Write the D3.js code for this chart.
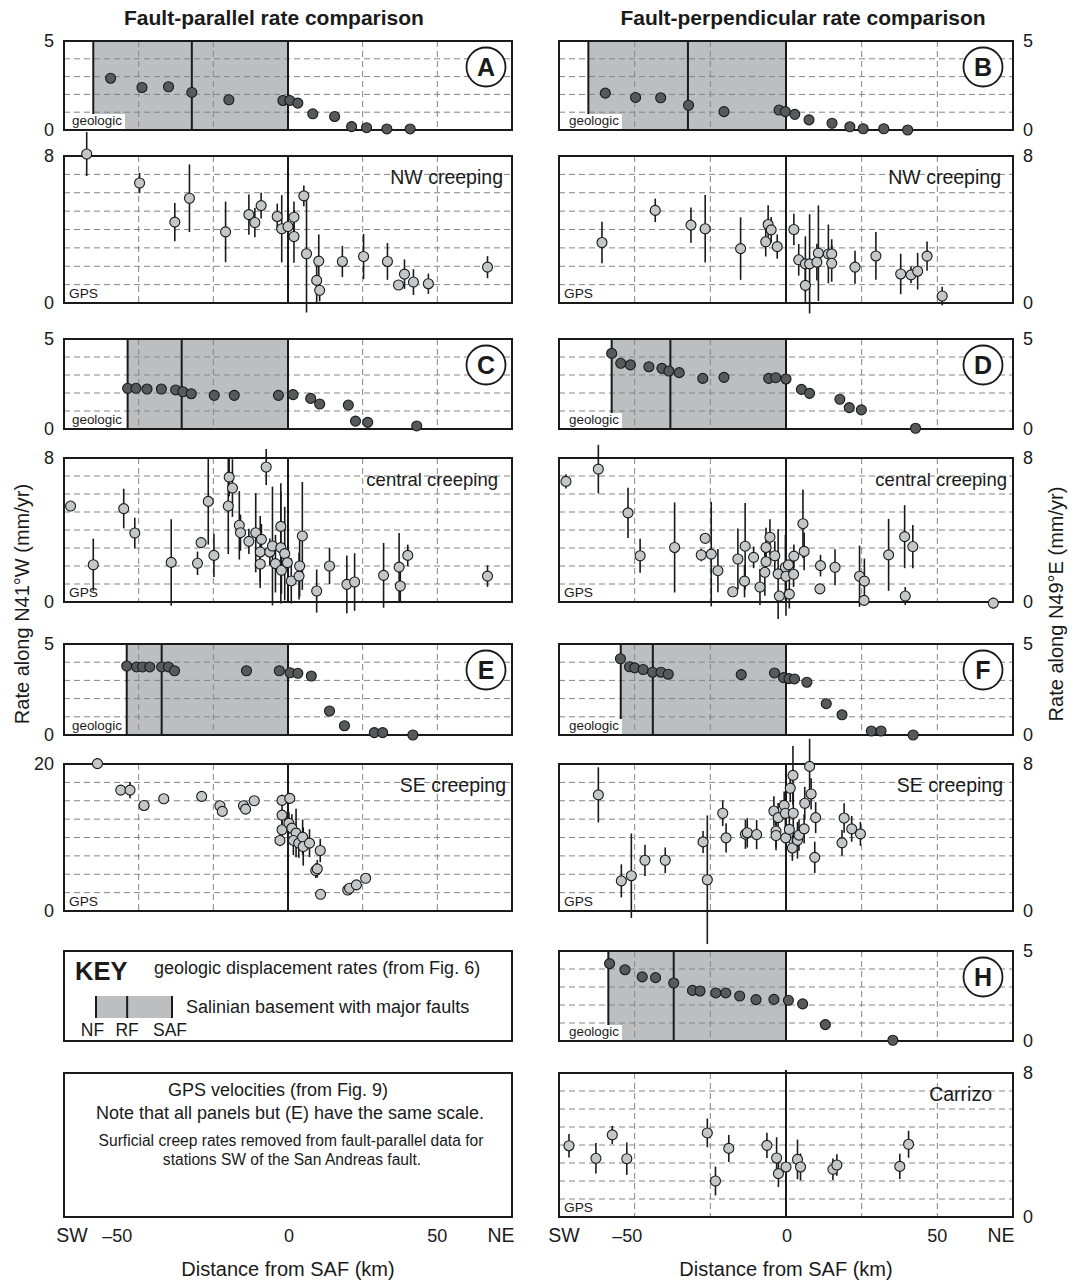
<!DOCTYPE html>
<html>
<head>
<meta charset="utf-8">
<script src="https://cdn.jsdelivr.net/npm/d3@7"></script>
<style>
  body { margin: 0; background: #fff; }
  svg { display: block; }
  text { font-family: 'Liberation Sans', Arial, Helvetica, sans-serif; fill: #1a1a1a; }
</style>
</head>
<body>
<svg id="chart" width="1078" height="1281"></svg>
<script>
// ---- distance axis (km from the San Andreas fault) ----
const xDomain = [-75, 75];
const xGrid = [-50, -25, 25, 50];
const xTickVals = [-50, 0, 50];
const xEndLabels = ["SW", "NE"];

// ---- fault positions [NF, RF] (SAF is at 0) ----
const faultsA = [-65.2, -32.2];
const faultsB = [-65.3, -32.4];
const faultsC = [-53.7, -35.6];
const faultsD = [-57.6, -38.2];
const faultsE = [-54.0, -42.3];
const faultsF = [-54.6, -44.0];
const faultsH = [-58.7, -37.1];
const keyFaultNames = ["NF", "RF", "SAF"];

// ---- geologic displacement rates [distance km, rate mm/yr] ----
const geoA = [[-59.4,2.91],[-48.9,2.39],[-40.0,2.43],[-32.2,2.11],[-19.8,1.70],[-1.7,1.66],[0.6,1.66],[3.3,1.51],[8.3,0.91],[15.6,0.76],[21.3,0.19],[26.3,0.13],[33.1,0.06],[40.9,0.06]];
const geoB = [[-59.7,2.07],[-49.7,1.83],[-41.4,1.81],[-32.2,1.39],[-20.5,1.03],[-2.3,1.12],[-0.2,1.03],[2.9,0.88],[7.6,0.57],[15.2,0.38],[21.1,0.18],[25.5,0.07],[32.3,0.07],[40.2,0.0]];
const geoC = [[-53.7,2.26],[-50.9,2.26],[-47.2,2.22],[-42.4,2.22],[-37.6,2.17],[-35.2,2.07],[-32.4,1.96],[-24.7,1.87],[-18.0,1.87],[-3.2,1.87],[1.7,1.91],[7.6,1.70],[10.6,1.39],[20.2,1.33],[22.6,0.44],[26.7,0.37],[43.1,0.17]];
const geoD = [[-57.6,4.20],[-54.6,3.65],[-51.4,3.56],[-45.3,3.46],[-41.0,3.37],[-38.7,3.22],[-35.3,3.13],[-27.5,2.81],[-20.5,2.87],[-5.7,2.81],[-3.4,2.85],[0.0,2.78],[5.1,2.20],[7.8,1.98],[17.8,1.65],[20.9,1.19],[24.9,1.06],[42.8,0.04]];
const geoE = [[-54.0,3.79],[-50.7,3.74],[-48.7,3.74],[-46.3,3.74],[-42.3,3.74],[-40.0,3.74],[-38.0,3.53],[-13.9,3.53],[-2.9,3.53],[0.7,3.42],[3.3,3.39],[7.8,3.24],[13.9,1.32],[18.9,0.51],[28.9,0.13],[31.7,0.13],[41.8,0.0]];
const geoF = [[-54.7,4.19],[-51.7,3.75],[-50.0,3.69],[-47.2,3.60],[-44.1,3.45],[-41.3,3.45],[-38.9,3.34],[-14.8,3.32],[-3.8,3.41],[-0.8,3.15],[1.0,3.10],[2.8,3.08],[6.9,2.90],[13.3,1.72],[18.5,1.11],[28.2,0.22],[31.4,0.22],[42.0,0.0]];
const geoH = [[-58.3,4.30],[-53.2,3.96],[-47.5,3.56],[-43.1,3.52],[-37.1,3.22],[-30.9,2.81],[-28.4,2.78],[-23.2,2.67],[-19.9,2.67],[-15.3,2.50],[-9.9,2.30],[-4.0,2.31],[0.8,2.26],[5.5,2.06],[13.0,0.91],[35.3,0.04]];

// ---- GPS velocities [distance km, rate mm/yr, 1-sigma error] ----
const gpsNWpar = [[-67.4,8.11,1.2],[-49.7,6.53,0.55],[-37.9,4.40,1.04],[-33.0,5.70,1.84],[-20.9,3.87,1.65],[-13.1,4.81,1.1],[-11.1,4.38,0.8],[-9.0,5.30,0.7],[-3.6,4.71,0.7],[-2.1,4.04,1.83],[0.0,4.16,0],[2.0,4.67,0.86],[2.0,3.62,1.43],[5.3,5.83,0.56],[6.2,2.68,3.2],[10.3,2.28,1.45],[9.6,1.23,1.2],[10.6,0.69,0.6],[18.2,2.26,0.85],[25.3,2.53,1.23],[33.3,2.26,1.0],[37.0,0.98,0],[39.0,1.57,0.8],[42.0,1.14,0.7],[47.0,1.05,0.55],[66.8,1.95,0.6]];
const gpsNWperp = [[-60.8,3.29,1.13],[-43.2,5.04,0.64],[-31.4,4.24,0.96],[-26.7,4.04,1.84],[-15.0,2.96,1.7],[-6.7,3.33,0.8],[-5.9,4.27,1.05],[-4.9,3.98,0.7],[-2.9,3.07,0.66],[2.6,4.00,0.86],[4.2,2.35,0.86],[6.4,2.13,1.5],[6.4,0.96,0.9],[7.8,2.13,2.7],[10.7,2.71,2.6],[10.2,2.22,1.0],[14.0,2.67,1.6],[15.1,2.67,0.8],[15.1,2.16,1.0],[22.8,1.95,0.9],[29.7,2.56,1.3],[37.9,1.58,1.1],[41.3,1.53,0.45],[43.5,1.73,1.0],[46.6,2.55,0.8],[51.6,0.38,0.5]];
const gpsCentralPar = [[-72.8,5.33,0],[-65.2,2.07,1.45],[-55.0,5.19,1.1],[-51.3,3.83,0.85],[-39.1,2.20,2.4],[-30.3,2.15,0.65],[-29.1,3.30,0],[-26.7,5.59,2.4],[-24.8,2.59,1.2],[-20.0,5.33,2.67],[-19.7,6.94,1.06],[-18.6,6.33,1.6],[-16.3,4.26,1.9],[-15.9,3.85,1.0],[-13.1,3.37,0.7],[-10.8,3.85,2.2],[-9.3,2.78,2.0],[-9.3,2.11,1.0],[-8.9,3.48,0.85],[-7.3,7.50,1.0],[-6.1,2.78,0.75],[-5.2,3.11,3.3],[-4.2,2.13,1.6],[-2.4,4.20,2.4],[-2.4,3.02,3.1],[-2.2,1.76,1.3],[-1.1,2.69,2.6],[-0.2,2.19,0.4],[1.1,1.17,1.25],[3.7,1.44,1.3],[3.9,2.00,1.7],[4.8,3.67,3.0],[9.6,0.61,1.2],[13.9,2.00,1.0],[19.7,0.98,1.6],[22.3,1.11,1.6],[32.0,1.48,1.8],[37.2,1.94,1.9],[37.6,0.89,0.9],[40.1,2.59,0.6],[66.8,1.44,0.6]];
const gpsCentralPerp = [[-72.7,6.70,0.4],[-62.0,7.38,1.35],[-52.2,4.95,1.4],[-48.2,2.57,0.95],[-36.8,3.03,2.5],[-28.0,2.61,0.35],[-26.7,3.54,0.3],[-24.7,2.66,2.9],[-22.5,1.74,1.2],[-17.6,0.57,0],[-15.9,2.39,1.7],[-13.7,1.16,0.9],[-13.5,3.10,2.4],[-10.7,2.48,0.6],[-8.6,0.83,1.0],[-7.0,1.65,1.3],[-6.6,3.03,1.1],[-6.6,2.24,0.5],[-5.3,3.60,1.0],[-3.7,2.57,0.8],[-2.6,1.56,2.5],[-2.2,0.33,0],[-0.2,1.93,1.8],[0.0,1.43,2.2],[0.8,2.06,0],[1.1,0.44,0.8],[2.5,1.54,0.7],[2.6,2.55,0.65],[5.6,4.35,1.9],[6.0,2.81,1.05],[11.4,2.02,0.6],[11.2,0.73,0],[16.2,1.93,1.0],[24.3,1.43,1.7],[25.9,1.16,1.25],[25.8,0.09,0],[33.9,2.62,2.0],[39.2,3.63,1.75],[39.4,0.33,0.5],[41.9,3.08,1.2],[68.5,-0.06,0.3]];
const gpsSEpar = [[-63.8,20.05,0.7],[-56.0,16.45,0.6],[-52.9,16.45,1.1],[-48.2,14.36,0],[-41.6,15.27,0],[-28.9,15.59,0],[-22.8,14.32,0],[-22.0,13.55,0],[-14.9,14.32,0],[-14.2,13.86,0],[-11.3,15.00,0.6],[-2.0,15.05,0.75],[0.6,15.32,0],[-2.0,13.05,1.4],[-2.0,11.05,1.2],[-2.7,9.60,0.8],[0.3,11.95,1.5],[1.3,11.27,1.9],[2.7,10.60,3.3],[1.8,9.60,2.0],[3.6,9.23,2.0],[4.9,10.05,2.4],[5.1,8.77,2.6],[7.2,9.23,1.9],[10.8,8.23,1.6],[9.3,5.50,1.0],[9.8,5.73,1.2],[10.9,2.27,0.5],[20.0,2.86,0],[20.6,3.09,0],[22.9,3.55,0],[26.0,4.45,0]];
const gpsSEperp = [[-62.0,6.32,1.5],[-54.4,1.64,0.9],[-51.1,1.92,2.3],[-46.6,2.76,0.85],[-39.9,2.76,0.7],[-27.4,3.76,0.6],[-26.0,1.70,3.5],[-20.9,5.32,0.7],[-19.8,3.98,0.8],[-13.4,4.18,0.8],[-12.8,4.26,0.8],[-9.7,4.16,0.8],[-4.0,5.44,0.8],[-3.3,4.35,0.9],[-3.3,4.11,0.8],[-2.6,5.08,0.8],[-0.6,5.75,0.75],[-0.2,5.32,0.9],[-0.1,3.98,0.7],[1.4,6.68,0.75],[1.1,4.44,0.75],[2.3,7.38,1.6],[2.4,5.32,1.6],[2.1,3.43,0.7],[3.8,3.85,1.0],[4.3,4.13,0.85],[6.0,4.47,0.8],[6.2,5.86,0.9],[7.8,7.87,1.5],[8.3,6.37,0.85],[9.8,5.08,0.85],[9.5,2.92,0.85],[18.5,3.71,0.7],[19.2,5.06,0.8],[21.7,4.47,0.7],[24.6,4.20,0.65]];
const gpsCarrizo = [[-71.7,3.96,0.65],[-62.8,3.26,0.85],[-57.4,4.56,0.5],[-52.6,3.24,0.9],[-26.0,4.67,0.8],[-23.3,2.00,0.8],[-18.9,3.81,0.75],[-6.3,3.98,0.7],[-3.1,3.28,1.15],[-2.5,2.41,0.75],[0.0,2.78,0],[3.8,3.20,1.1],[4.8,2.78,0.75],[15.5,2.65,0.6],[16.8,2.89,0.6],[37.6,2.81,0.7],[40.5,4.04,0.75]];

// ---- colours ----
const SHADE = "#bcbec0";
const DARK = "#58595b";
const LIGHT = "#c4c6c8";
const GRID = "#858585";
const INK = "#1a1a1a";

const svg = d3.select("#chart");
const cols = { left: [64, 512], right: [559, 1013] };

function drawPanel(p) {
  const [x0, x1] = cols[p.col];
  const [y0, y1] = p.row;
  const x = d3.scaleLinear().domain(xDomain).range([x0, x1]);
  const y = d3.scaleLinear().domain([0, p.ymax]).range([y1, y0]);
  const g = svg.append("g");

  g.append("rect").attr("x", x0).attr("y", y0).attr("width", x1 - x0).attr("height", y1 - y0).attr("fill", "#fff");

  // Salinian basement block between NF and the SAF
  if (p.faults && p.kind === "geo") {
    g.append("rect")
      .attr("x", x(p.faults[0])).attr("y", y0)
      .attr("width", x(0) - x(p.faults[0])).attr("height", y1 - y0)
      .attr("fill", SHADE);
  }

  // dashed grid
  g.selectAll("line.vgrid").data(xGrid).join("line").attr("class", "vgrid")
    .attr("x1", d => x(d)).attr("x2", d => x(d)).attr("y1", y0).attr("y2", y1)
    .attr("stroke", GRID).attr("stroke-width", 1).attr("stroke-dasharray", "6,4");
  const hVals = d3.range(1, Math.round(p.ymax / p.step)).map(i => i * p.step);
  g.selectAll("line.hgrid").data(hVals).join("line").attr("class", "hgrid")
    .attr("x1", x0).attr("x2", x1).attr("y1", d => y(d)).attr("y2", d => y(d))
    .attr("stroke", GRID).attr("stroke-width", 1).attr("stroke-dasharray", "6,4");

  // fault traces
  const faultLines = p.kind === "geo" ? [p.faults[0], p.faults[1], 0] : [0];
  g.selectAll("line.fault").data(faultLines).join("line").attr("class", "fault")
    .attr("x1", d => x(d)).attr("x2", d => x(d))
    .attr("y1", y0 - (p.safRise || 0)).attr("y2", y1)
    .attr("stroke", INK).attr("stroke-width", 2);

  // frame
  g.append("rect").attr("x", x0).attr("y", y0).attr("width", x1 - x0).attr("height", y1 - y0)
    .attr("fill", "none").attr("stroke", INK).attr("stroke-width", 2);

  const left = p.col === "left";
  // corner tag
  if (p.kind === "geo") {
    g.append("rect").attr("x", x0 + (left ? 6 : 8)).attr("y", y1 - 16).attr("width", 55).attr("height", 15).attr("fill", "#fff");
    g.append("text").attr("x", x0 + (left ? 8 : 10)).attr("y", y1 - 5).attr("font-size", 13.4).text("geologic");
  } else {
    g.append("text").attr("x", x0 + 5).attr("y", y1 - 5).attr("font-size", 13.7).text("GPS");
  }

  // error bars and points
  if (p.kind === "gps") {
    g.selectAll("line.err").data(p.data.filter(d => d[2] > 0)).join("line").attr("class", "err")
      .attr("x1", d => x(d[0])).attr("x2", d => x(d[0]))
      .attr("y1", d => y(d[1] - d[2])).attr("y2", d => y(d[1] + d[2]))
      .attr("stroke", INK).attr("stroke-width", 1.6);
  }
  g.selectAll("circle.pt").data(p.data).join("circle").attr("class", "pt")
    .attr("cx", d => x(d[0])).attr("cy", d => y(d[1])).attr("r", 5)
    .attr("fill", p.kind === "geo" ? DARK : LIGHT)
    .attr("stroke", INK).attr("stroke-width", 1.1);

  // circled panel letter
  if (p.letter) {
    const cx = x1 - (left ? 26 : 30), cy = y0 + 26;
    g.append("circle").attr("cx", cx).attr("cy", cy).attr("r", 19.5)
      .attr("fill", "#fff").attr("stroke", INK).attr("stroke-width", 1.8);
    g.append("text").attr("x", cx).attr("y", cy).attr("dy", "0.36em")
      .attr("text-anchor", "middle").attr("font-size", 25).attr("font-weight", "bold").text(p.letter);
  }
  if (p.name) {
    g.append("text").attr("x", x1 - p.nameInset).attr("y", y0 + 28)
      .attr("text-anchor", "end").attr("font-size", p.nameSize || 19.5).text(p.name);
  }

  // y tick labels (top value and zero)
  g.selectAll("text.ytick").data([p.ymax, 0]).join("text").attr("class", "ytick")
    .attr("x", left ? x0 - 10 : x1 + 10).attr("y", d => y(d)).attr("dy", "0.36em")
    .attr("text-anchor", left ? "end" : "start").attr("font-size", 18).text(d => d);
}

const R = {
  geo1: [41, 130], gps1: [156, 303],
  geo2: [339, 429], gps2: [458, 602],
  geo3: [644, 735], gps3: [764, 911],
  geo4: [951, 1041], gps4: [1073, 1217]
};

// fault-parallel column
drawPanel({ col: "left", row: R.geo1, kind: "geo", ymax: 5, step: 1, data: geoA, faults: faultsA, letter: "A" });
drawPanel({ col: "left", row: R.gps1, kind: "gps", ymax: 8, step: 1, data: gpsNWpar, name: "NW creeping", nameInset: 9 });
drawPanel({ col: "left", row: R.geo2, kind: "geo", ymax: 5, step: 1, data: geoC, faults: faultsC, letter: "C" });
drawPanel({ col: "left", row: R.gps2, kind: "gps", ymax: 8, step: 1, data: gpsCentralPar, name: "central creeping", nameInset: 14, nameSize: 18.5 });
drawPanel({ col: "left", row: R.geo3, kind: "geo", ymax: 5, step: 1, data: geoE, faults: faultsE, letter: "E" });
drawPanel({ col: "left", row: R.gps3, kind: "gps", ymax: 20, step: 2.5, data: gpsSEpar, name: "SE creeping", nameInset: 6 });

// fault-perpendicular column
drawPanel({ col: "right", row: R.geo1, kind: "geo", ymax: 5, step: 1, data: geoB, faults: faultsB, letter: "B" });
drawPanel({ col: "right", row: R.gps1, kind: "gps", ymax: 8, step: 1, data: gpsNWperp, name: "NW creeping", nameInset: 12 });
drawPanel({ col: "right", row: R.geo2, kind: "geo", ymax: 5, step: 1, data: geoD, faults: faultsD, letter: "D" });
drawPanel({ col: "right", row: R.gps2, kind: "gps", ymax: 8, step: 1, data: gpsCentralPerp, name: "central creeping", nameInset: 6, nameSize: 18.5 });
drawPanel({ col: "right", row: R.geo3, kind: "geo", ymax: 5, step: 1, data: geoF, faults: faultsF, letter: "F" });
drawPanel({ col: "right", row: R.gps3, kind: "gps", ymax: 8, step: 1, data: gpsSEperp, name: "SE creeping", nameInset: 10 });
drawPanel({ col: "right", row: R.geo4, kind: "geo", ymax: 5, step: 1, data: geoH, faults: faultsH, letter: "H" });
drawPanel({ col: "right", row: R.gps4, kind: "gps", ymax: 8, step: 1, data: gpsCarrizo, name: "Carrizo", nameInset: 21, safRise: 3 });

// ---- key box ----
(function () {
  const [x0, x1] = cols.left;
  const [y0, y1] = R.geo4;
  const g = svg.append("g");
  g.append("rect").attr("x", x0).attr("y", y0).attr("width", x1 - x0).attr("height", y1 - y0)
    .attr("fill", "#fff").attr("stroke", INK).attr("stroke-width", 2);
  g.append("text").attr("x", 75).attr("y", 980).attr("font-size", 25.5).attr("font-weight", "bold").text("KEY");
  g.append("text").attr("x", 154).attr("y", 974).attr("font-size", 18).text("geologic displacement rates (from Fig. 6)");
  const sw = d3.scaleLinear().domain([0, 1]).range([96, 172]);
  const swPos = [0, 0.41, 1];
  g.append("rect").attr("x", sw(0)).attr("y", 996).attr("width", sw(1) - sw(0)).attr("height", 22).attr("fill", SHADE);
  g.selectAll("line.kf").data(swPos).join("line").attr("class", "kf")
    .attr("x1", d => sw(d)).attr("x2", d => sw(d)).attr("y1", 996).attr("y2", 1018)
    .attr("stroke", INK).attr("stroke-width", 2);
  g.selectAll("text.kf").data(keyFaultNames).join("text").attr("class", "kf")
    .attr("x", (d, i) => sw(swPos[i]) + [-3.5, 0, -2][i]).attr("y", 1036)
    .attr("text-anchor", "middle").attr("font-size", 17.5).text(d => d);
  g.append("text").attr("x", 186).attr("y", 1013).attr("font-size", 18).text("Salinian basement with major faults");
})();

// ---- GPS note box ----
(function () {
  const [x0, x1] = cols.left;
  const [y0, y1] = R.gps4;
  const g = svg.append("g");
  g.append("rect").attr("x", x0).attr("y", y0).attr("width", x1 - x0).attr("height", y1 - y0)
    .attr("fill", "#fff").attr("stroke", INK).attr("stroke-width", 2);
  const lines = [
    ["GPS velocities (from Fig. 9)", 278, 1096, 18],
    ["Note that all panels but (E) have the same scale.", 290, 1119, 18],
    ["Surficial creep rates removed from fault-parallel data for", 291, 1146, 15.6],
    ["stations SW of the San Andreas fault.", 292, 1165, 15.6]
  ];
  g.selectAll("text").data(lines).join("text")
    .attr("x", d => d[1]).attr("y", d => d[2]).attr("text-anchor", "middle")
    .attr("font-size", d => d[3]).text(d => d[0]);
})();

// ---- bottom distance axes ----
function distanceAxis(col, endPos, minusShift) {
  const [x0, x1] = cols[col];
  const x = d3.scaleLinear().domain(xDomain).range([x0, x1]);
  const g = svg.append("g");
  g.selectAll("text.xt").data(xTickVals).join("text").attr("class", "xt")
    .attr("x", d => x(d) + (d < 0 ? minusShift : 0) + (d === 0 ? 1 : 0)).attr("y", 1242)
    .attr("text-anchor", "middle").attr("font-size", 18).text(d => (d < 0 ? "\u2013" + Math.abs(d) : d));
  g.selectAll("text.xe").data(xEndLabels).join("text").attr("class", "xe")
    .attr("x", (d, i) => endPos[i]).attr("y", 1242)
    .attr("text-anchor", "middle").attr("font-size", 19.5).text(d => d);
  g.append("text").attr("x", (x0 + x1) / 2).attr("y", 1276)
    .attr("text-anchor", "middle").attr("font-size", 20).text("Distance from SAF (km)");
}
distanceAxis("left", [72, 501], -21.5);
distanceAxis("right", [564, 1001], -7.5);

// ---- column titles ----
svg.append("text").attr("x", 274).attr("y", 25).attr("text-anchor", "middle")
  .attr("font-size", 21).attr("font-weight", "bold").text("Fault-parallel rate comparison");
svg.append("text").attr("x", 803).attr("y", 25).attr("text-anchor", "middle")
  .attr("font-size", 21).attr("font-weight", "bold").text("Fault-perpendicular rate comparison");

// ---- rate axis titles ----
svg.append("text").attr("transform", "translate(22,604) rotate(-90)").attr("dy", "0.35em")
  .attr("text-anchor", "middle").attr("font-size", 20).text("Rate along N41°W (mm/yr)");
svg.append("text").attr("transform", "translate(1056,604) rotate(-90)").attr("dy", "0.35em")
  .attr("text-anchor", "middle").attr("font-size", 20).text("Rate along N49°E (mm/yr)");
</script>
</body>
</html>
